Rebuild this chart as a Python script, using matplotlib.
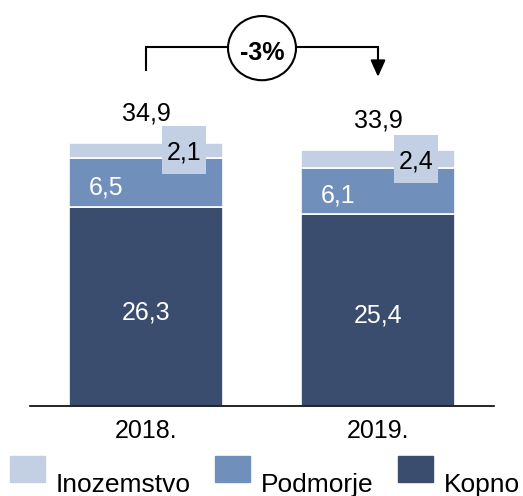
import matplotlib.pyplot as plt
from matplotlib.patches import Ellipse, Rectangle

plt.rcParams['font.family'] = ['Liberation Sans', 'DejaVu Sans']

years = ['2018.', '2019.']
series = ['Inozemstvo', 'Podmorje', 'Kopno']
kopno = [26.3, 25.4]
podmorje = [6.5, 6.1]
inozemstvo = [2.1, 2.4]
change_label = '-3%'

colors = {'Kopno': '#3a4d6e', 'Podmorje': '#7090bb', 'Inozemstvo': '#c3cfe2'}

fig = plt.figure(figsize=(5.23, 4.96), dpi=100)
ax = fig.add_axes([30 / 523, 90 / 496, 464 / 523, 406 / 496])

x = list(range(len(years)))
w = 0.66
totals = [k + p + i for k, p, i in zip(kopno, podmorje, inozemstvo)]
pod_bottom = kopno
ino_bottom = [k + p for k, p in zip(kopno, podmorje)]

ax.bar(x, kopno, w, color=colors['Kopno'], edgecolor='white', linewidth=1.2)
ax.bar(x, podmorje, w, bottom=pod_bottom, color=colors['Podmorje'], edgecolor='white', linewidth=1.2)
ax.bar(x, inozemstvo, w, bottom=ino_bottom, color=colors['Inozemstvo'], edgecolor='white', linewidth=1.2)

fs = 18
for xi, k, p, i, pb, ib, t in zip(x, kopno, podmorje, inozemstvo, pod_bottom, ino_bottom, totals):
    ax.text(xi, k / 2 - 0.7, f'{k:.1f}'.replace('.', ','), color='white', fontsize=fs, ha='center', va='center')
    ax.text(xi - 0.17, pb + p / 2 - 0.6, f'{p:.1f}'.replace('.', ','), color='white', fontsize=fs, ha='center', va='center')
    # label box for the thin top segment
    cy = ib + i / 2
    ax.bar(xi + 0.165, 6.3, 0.19, bottom=cy - 3.1, color=colors['Inozemstvo'], zorder=3)
    ax.text(xi + 0.165, cy - 0.3, f'{i:.1f}'.replace('.', ','), color='black', fontsize=fs, ha='center', va='center', zorder=4)
    ax.text(xi, t + 3.9, f'{t:.1f}'.replace('.', ','), color='black', fontsize=fs, ha='center', va='center')

# change bracket
top_y = 47.6
ax.plot([x[0], x[0], x[1], x[1]], [totals[0] + 9.6, top_y, top_y, top_y - 0.5], color='black', lw=1.5,
        solid_joinstyle='miter', zorder=2)
ax.annotate('', xy=(x[1], totals[1] + 9.7), xytext=(x[1], top_y - 0.4),
            arrowprops=dict(arrowstyle='-|>,head_length=1.0,head_width=0.45', color='black', lw=1.5,
                            shrinkA=0, shrinkB=0, mutation_scale=10))
mid = (x[0] + x[1]) / 2
ax.add_patch(Ellipse((mid, 47.4), 0.293, 8.5, facecolor='white', edgecolor='black', lw=1.5, zorder=5))
ax.text(mid, 46.8, change_label, fontsize=fs, fontweight='bold', ha='center', va='center', zorder=6)

ax.set_xlim(-0.5, 1.5)
ax.set_ylim(0, 406 / 7.55)
ax.set_xticks(x)
ax.set_xticklabels(years, fontsize=fs)
ax.tick_params(axis='x', length=0, pad=9)
ax.set_yticks([])
for s in ['top', 'left', 'right']:
    ax.spines[s].set_visible(False)
ax.spines['bottom'].set_linewidth(1.2)

# legend drawn by hand: box, then label set a bit lower
leg_x = [10, 215, 398]
for lx, name in zip(leg_x, series):
    fig.patches.append(Rectangle((lx / 523, 1 - 482 / 496), 35 / 523, 26 / 496,
                                 transform=fig.transFigure, color=colors[name]))
    fig.text((lx + 46) / 523, 1 - 492 / 496, name, fontsize=19, va='baseline', ha='left')

fig.savefig('out.png', dpi=100)
